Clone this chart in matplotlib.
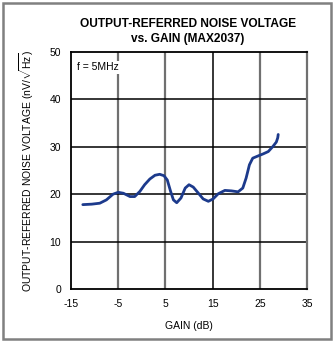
import matplotlib.pyplot as plt
from matplotlib.patches import Rectangle

plt.rcParams['font.family'] = ['Liberation Sans', 'DejaVu Sans']
plt.rcParams['mathtext.fontset'] = 'custom'
plt.rcParams['mathtext.rm'] = 'Liberation Sans'

# curve
gain = [-12.5, -10.6, -8.9, -7.5, -6.1, -5.0, -3.9, -2.5, -1.5, -0.4,
        0.6, 1.7, 2.8, 3.8, 4.7, 5.4, 6.1, 6.7, 7.4, 8.3, 9.2, 10.0,
        10.9, 12.0, 13.0, 14.1, 15.1, 16.2, 17.6, 19.0, 20.4, 21.4,
        22.1, 22.8, 23.5, 24.7, 25.7, 26.8, 27.8, 28.5, 28.8, 28.9]
noise = [17.8, 17.9, 18.1, 18.8, 20.0, 20.4, 20.2, 19.5, 19.5, 20.6,
         22.0, 23.2, 24.0, 24.2, 23.9, 23.0, 20.6, 18.8, 18.2, 19.2,
         21.3, 22.0, 21.5, 20.2, 19.0, 18.5, 19.0, 20.1, 20.8, 20.7,
         20.5, 21.3, 23.4, 26.2, 27.6, 28.1, 28.5, 29.0, 30.1, 31.0,
         31.9, 32.6]

xticks = [-15, -5, 5, 15, 25, 35]
yticks = [0, 10, 20, 30, 40, 50]

fig = plt.figure(figsize=(3.34, 3.42), dpi=100)
fig.patches.append(Rectangle((3 / 334, 3 / 342), 328 / 334, 336 / 342,
                             transform=fig.transFigure, fill=False,
                             edgecolor='#808080', linewidth=1.8))

ax = fig.add_axes([71 / 334, 1 - 289 / 342, 236 / 334, 237 / 342])
ax.set_xlim(-15, 35)
ax.set_ylim(0, 50)
ax.set_xticks(xticks)
ax.set_yticks(yticks)
ax.set_xticklabels([str(t) for t in xticks], fontsize=7.5)
ax.set_yticklabels([str(t) for t in yticks], fontsize=7.5)
ax.tick_params(length=0, pad=7)

# grid lines
for x in [-5, 5, 25]:
    ax.axvline(x, color='#707070', linewidth=1.6, zorder=1)
ax.axvline(15, color='black', linewidth=1.1, zorder=1)
for y in [10, 20, 30, 40]:
    ax.axhline(y, color='black', linewidth=1.1, zorder=1)

for side in ['left', 'bottom', 'top']:
    ax.spines[side].set_color('black')
    ax.spines[side].set_linewidth(1.3)
ax.spines['right'].set_color('#707070')
ax.spines['right'].set_linewidth(1.6)

ax.plot(gain, noise, color='#1c3a8c', linewidth=2.0, zorder=3,
        solid_capstyle='round', solid_joinstyle='round')

ax.text(-13.7, 46.8, 'f = 5MHz', fontsize=7.5, va='center', ha='left',
        bbox=dict(facecolor='white', edgecolor='none', pad=1.0), zorder=2)

ax.set_xlabel('GAIN (dB)', fontsize=7.5, labelpad=9)
ax.set_ylabel('OUTPUT-REFERRED NOISE VOLTAGE (nV/$\\sqrt{\\mathrm{Hz}}$)',
              fontsize=7.5, labelpad=10)

fig.text(188 / 334, 1 - 24 / 342, 'OUTPUT-REFERRED NOISE VOLTAGE',
         fontsize=8.6, fontweight='bold', ha='center', va='center')
fig.text(188 / 334, 1 - 39 / 342, 'vs. GAIN (MAX2037)',
         fontsize=8.6, fontweight='bold', ha='center', va='center')

fig.savefig('out.png', dpi=100)
